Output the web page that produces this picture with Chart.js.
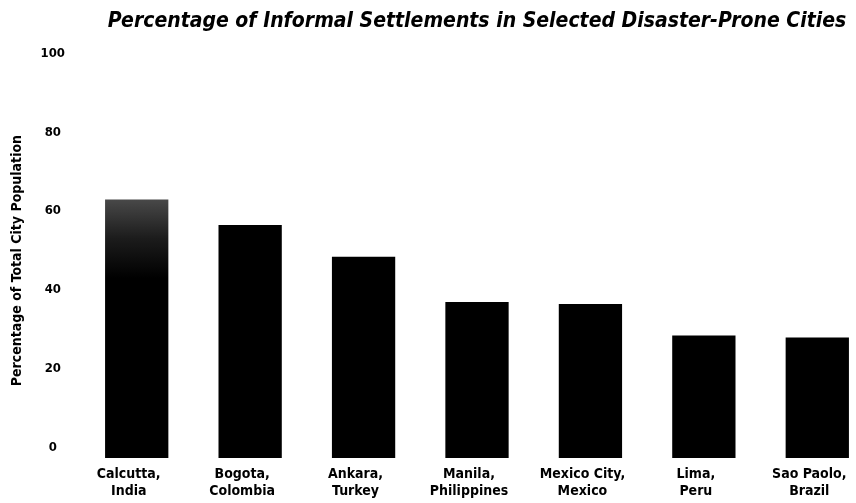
<!DOCTYPE html>
<html>
<head>
<meta charset="utf-8">
<title>Informal Settlements</title>
<script src="https://cdn.jsdelivr.net/npm/chart.js@4.4.0/dist/chart.umd.min.js"></script>
<style>
  html, body { margin: 0; padding: 0; background: #fff; overflow: hidden; width: 856px; height: 503px; }
</style>
</head>
<body>
<canvas id="chart-area" width="874" height="503"></canvas>
<script>
var cities = [
  ['Calcutta,', 'India'],
  ['Bogota,', 'Colombia'],
  ['Ankara,', 'Turkey'],
  ['Manila,', 'Philippines'],
  ['Mexico City,', 'Mexico'],
  ['Lima,', 'Peru'],
  ['Sao Paolo,', 'Brazil']
];
var informalShare = [65.5, 59, 51, 39.5, 39, 31, 30.5];
var yTicks = [0, 20, 40, 60, 80, 100];

var narrow = "'Liberation Sans Narrow', 'DejaVu Sans Condensed', sans-serif";

// the first bar is printed lighter at the top in the original
function barColor(c) {
  if (c.dataIndex !== 0 || !c.chart.chartArea) return '#000';
  var area = c.chart.chartArea;
  var g = c.chart.ctx.createLinearGradient(0, area.top + 135, 0, area.top + 215);
  g.addColorStop(0, '#4a4a4a');
  g.addColorStop(0.5, '#1c1c1c');
  g.addColorStop(1, '#000');
  return g;
}

var config = {
  type: 'bar',
  data: {
    labels: cities,
    datasets: [{
      label: 'Informal settlements',
      data: informalShare,
      backgroundColor: barColor,
      borderWidth: 0,
      categoryPercentage: 0.62,
      barPercentage: 0.9
    }]
  },
  options: {
    responsive: false,
    animation: false,
    layout: {
      padding: { left: 0, right: 0, top: 2, bottom: 0 }
    },
    plugins: {
      legend: { display: false },
      tooltip: { enabled: false },
      title: {
        display: true,
        fullSize: false,
        text: 'Percentage of Informal Settlements in Selected Disaster-Prone Cities',
        color: '#000',
        font: { family: narrow, size: 21, weight: 'bold', style: 'italic' },
        padding: { top: 7, bottom: 29 }
      }
    },
    scales: {
      x: {
        afterFit: function(scale) {
          scale.height = 45;
        },
        grid: { display: false, drawTicks: false },
        border: { display: false },
        ticks: {
          color: '#000',
          padding: 8,
          labelOffset: -8,
          maxRotation: 0,
          autoSkip: false,
          font: { family: narrow, size: 14, weight: 'bold' }
        }
      },
      y: {
        min: 0,
        max: 100,
        afterBuildTicks: function(scale) {
          scale.ticks = yTicks.map(function(v) { return { value: v }; });
        },
        afterFit: function(scale) {
          scale.width = 80;
        },
        grid: { display: false, drawTicks: false },
        border: { display: false },
        ticks: {
          color: '#000',
          crossAlign: 'center',
          padding: 15,
          labelOffset: -10,
          font: { family: narrow, size: 13, weight: 'bold' }
        },
        title: {
          display: true,
          text: 'Percentage of Total City Population',
          color: '#000',
          font: { family: narrow, size: 14, weight: 'bold' },
          padding: { top: 9, bottom: 0 }
        }
      }
    }
  }
};

window.onload = function() {
  var ctx = document.getElementById('chart-area').getContext('2d');
  window.myBar = new Chart(ctx, config);
};
</script>
</body>
</html>
